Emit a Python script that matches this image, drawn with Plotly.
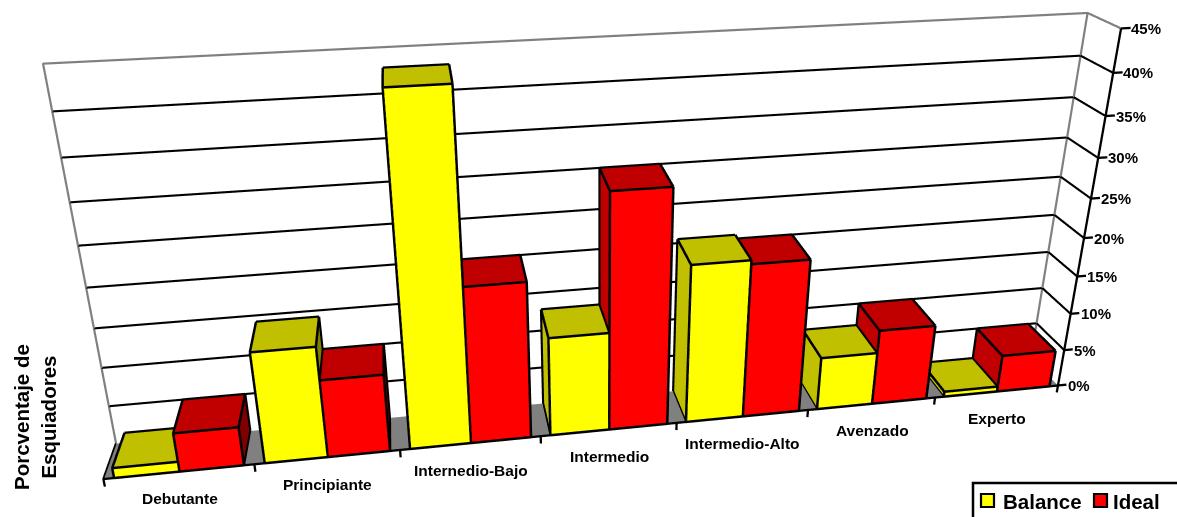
import plotly.graph_objects as go

# Ski-level distribution: resort balance against the ideal mix (percent of skiers)
categories = ["Debutante", "Principiante", "Internedio-Bajo", "Intermedio",
              "Intermedio-Alto", "Avenzado", "Experto"]
balance = [1.3, 14.2, 42.8, 12.8, 20.5, 7.0, 0.7]
ideal = [5, 10, 20, 30, 20, 10, 5]
z_ticks = [0, 5, 10, 15, 20, 25, 30, 35, 40, 45]

WIDTH, HEIGHT, TOP_OFFSET = 1177, 969, 307
FONT = "Liberation Sans, Arial, sans-serif"
Y0, Y1 = 0.0, 1.0
ZMAX = 45
N = len(categories)


def px(x):
    return x / WIDTH


def py(y):
    return 1 - (y + TOP_OFFSET) / HEIGHT


def cuboid(x0, x1, y0, y1, z1, front, side_left, top, side_right):
    """One bar as a Mesh3d plus its outline; faces sit just inside the outline."""
    dx, dy, dz = 0.006, 0.012, 0.08
    top_z = max(z1 - dz, 0.02)
    xs = [x0 + dx, x1 - dx, x1 - dx, x0 + dx, x0 + dx, x1 - dx, x1 - dx, x0 + dx]
    ys = [y0 + dy, y0 + dy, y1 - dy, y1 - dy, y0 + dy, y0 + dy, y1 - dy, y1 - dy]
    zs = [0, 0, 0, 0, top_z, top_z, top_z, top_z]
    tri = [(0, 1, 5), (0, 5, 4), (3, 0, 4), (3, 4, 7), (4, 5, 6), (4, 6, 7),
           (1, 2, 6), (1, 6, 5), (2, 3, 7), (2, 7, 6), (0, 2, 1), (0, 3, 2)]
    cols = [front] * 2 + [side_left] * 2 + [top] * 2 + [side_right] * 2 + [top] * 2 + [top] * 2
    mesh = go.Mesh3d(x=xs, y=ys, z=zs,
                     i=[t[0] for t in tri], j=[t[1] for t in tri], k=[t[2] for t in tri],
                     facecolor=cols, flatshading=True, hoverinfo="skip", showlegend=False,
                     lighting=dict(ambient=1, diffuse=0, specular=0, roughness=1, fresnel=0))
    ox = [x0, x1, x1, x0, x0, x1, x1, x0]
    oy = [y0, y0, y1, y1, y0, y0, y1, y1]
    oz = [0, 0, 0, 0, z1, z1, z1, z1]
    ex, ey, ez = [], [], []
    for a, b in [(0, 1), (1, 2), (2, 3), (3, 0), (4, 5), (5, 6), (6, 7), (7, 4),
                 (0, 4), (1, 5), (2, 6), (3, 7)]:
        ex += [ox[a], ox[b], None]
        ey += [oy[a], oy[b], None]
        ez += [oz[a], oz[b], None]
    return mesh, ex, ey, ez


def polyline(segments, color, width):
    xs, ys, zs = [], [], []
    for seg in segments:
        for p in seg:
            xs.append(p[0]); ys.append(p[1]); zs.append(p[2])
        xs.append(None); ys.append(None); zs.append(None)
    return go.Scatter3d(x=xs, y=ys, z=zs, mode="lines", line=dict(color=color, width=width),
                        hoverinfo="skip", showlegend=False)


fig = go.Figure()

# Floor of the plot box
fig.add_trace(go.Mesh3d(x=[0, N, N, 0], y=[0, 0, 1, 1], z=[-0.02] * 4, i=[0, 0], j=[1, 2], k=[2, 3],
                        color="#808080", flatshading=True, hoverinfo="skip", showlegend=False,
                        lighting=dict(ambient=1, diffuse=0, specular=0, roughness=1, fresnel=0)))

# Gridlines on the back and right walls
grid = [[(0, 1, z), (N, 1, z), (N, 0, z)] for z in z_ticks[1:-1]]
fig.add_trace(polyline(grid, "#000000", 4.2))
frame = [[(0, 1, 0), (0, 1, ZMAX), (N, 1, ZMAX), (N, 0, ZMAX)], [(N, 1, 0), (N, 1, ZMAX)]]
fig.add_trace(polyline(frame, "#808080", 4.4))

# Bars: yellow and red side by side in each category
edge_x, edge_y, edge_z = [], [], []
for i in range(N):
    for x0, x1, v, c in [(i + 0.07, i + 0.5, balance[i], ("#FFFF00", "#C0C000", "#C0C000", "#808000")),
                         (i + 0.5, i + 0.93, ideal[i], ("#FF0000", "#C00000", "#C00000", "#800000"))]:
        mesh, ex, ey, ez = cuboid(x0, x1, Y0, Y1, v, *c)
        fig.add_trace(mesh)
        edge_x += ex; edge_y += ey; edge_z += ez
fig.add_trace(go.Scatter3d(x=edge_x, y=edge_y, z=edge_z, mode="lines",
                           line=dict(color="#000000", width=5), hoverinfo="skip", showlegend=False))

# Axis lines and tick marks
axes = [[(0, 1, 0), (0, 0, 0), (N, 0, 0)], [(N, 0, -1), (N, 0, ZMAX)]]
axes += [[(i, 0, 0), (i, 0, -1)] for i in range(N + 1)]
axes += [[(N, 0, z), (N + 0.07, 0, z)] for z in z_ticks]
fig.add_trace(polyline(axes, "#000000", 4.6))

# Tick and category labels anchored in scene coordinates
tick_font = dict(family=FONT, size=15, color="#000000")
cat_font = dict(family=FONT, size=15.5, color="#000000")
scene_notes = [dict(x=N, y=0, z=z, text=f"<b>{z}%</b>", showarrow=False, xanchor="left", yanchor="middle",
                    xshift=8, font=tick_font) for z in z_ticks]
scene_notes += [dict(x=i + 0.5, y=0, z=0, text=f"<b>{c}</b>", showarrow=False, xanchor="center",
                     yanchor="middle", yshift=-27, font=cat_font) for i, c in enumerate(categories)]

legend_font = dict(family=FONT, size=20.5, color="#000000")
notes = [dict(x=px(35), y=py(417), xref="paper", yref="paper", showarrow=False, xanchor="center",
              yanchor="middle", text="<b>Porcventaje de<br>Esquiadores</b>", textangle=-90,
              font=dict(family=FONT, size=20.5, color="#000000")),
         dict(x=px(1001), y=py(501), xref="paper", yref="paper", showarrow=False, xanchor="left",
              yanchor="middle", text="<b>Balance</b>", font=legend_font),
         dict(x=px(1111), y=py(501), xref="paper", yref="paper", showarrow=False, xanchor="left",
              yanchor="middle", text="<b>Ideal</b>", font=legend_font)]


def box(x0, x1, y0, y1, fill, lw):
    return dict(type="rect", xref="paper", yref="paper", x0=px(x0), x1=px(x1), y0=py(y0), y1=py(y1),
                fillcolor=fill, line=dict(color="#000000", width=lw))


shapes = [box(973, 1195, 483, 560, "#FFFFFF", 2.5),
          box(981, 994, 494, 507, "#FFFF00", 2.2),
          box(1094, 1107, 494, 507, "#FF0000", 2.2)]

fig.update_layout(
    width=WIDTH, height=HEIGHT, margin=dict(l=0, r=0, t=0, b=0), paper_bgcolor="#FFFFFF",
    showlegend=False,
    annotations=notes,
    shapes=shapes,
    scene=dict(
        domain=dict(x=[0, 1], y=[0, 1]),
        dragmode="orbit",
        aspectmode="manual",
        # symmetric padding keeps the centre of the box fixed and leaves room for ticks
        aspectratio=dict(x=2 * 9 / 7, y=0.1179 * 2, z=0.8065 * 55 / 45),
        xaxis=dict(range=[-1, 8], visible=False),
        yaxis=dict(range=[-0.5, 1.5], visible=False),
        zaxis=dict(range=[-5, 50], visible=False),
        camera=dict(eye=dict(x=-0.3595, y=-2.0594, z=1.0139),
                    center=dict(x=-0.2145, y=-1.1485, z=0.6275),
                    up=dict(x=0.0653, y=0.3808, z=0.9223)),
        annotations=scene_notes,
    ),
)

# The scene viewport is taller than the window, so lift it to frame the box
shift = ("var gd=document.getElementById('{plot_id}');"
         f"gd.style.marginTop='-{TOP_OFFSET}px';"
         "document.documentElement.style.overflow='hidden';"
         "document.body.style.overflow='hidden';")
fig.write_html("out.html", post_script=shift)
